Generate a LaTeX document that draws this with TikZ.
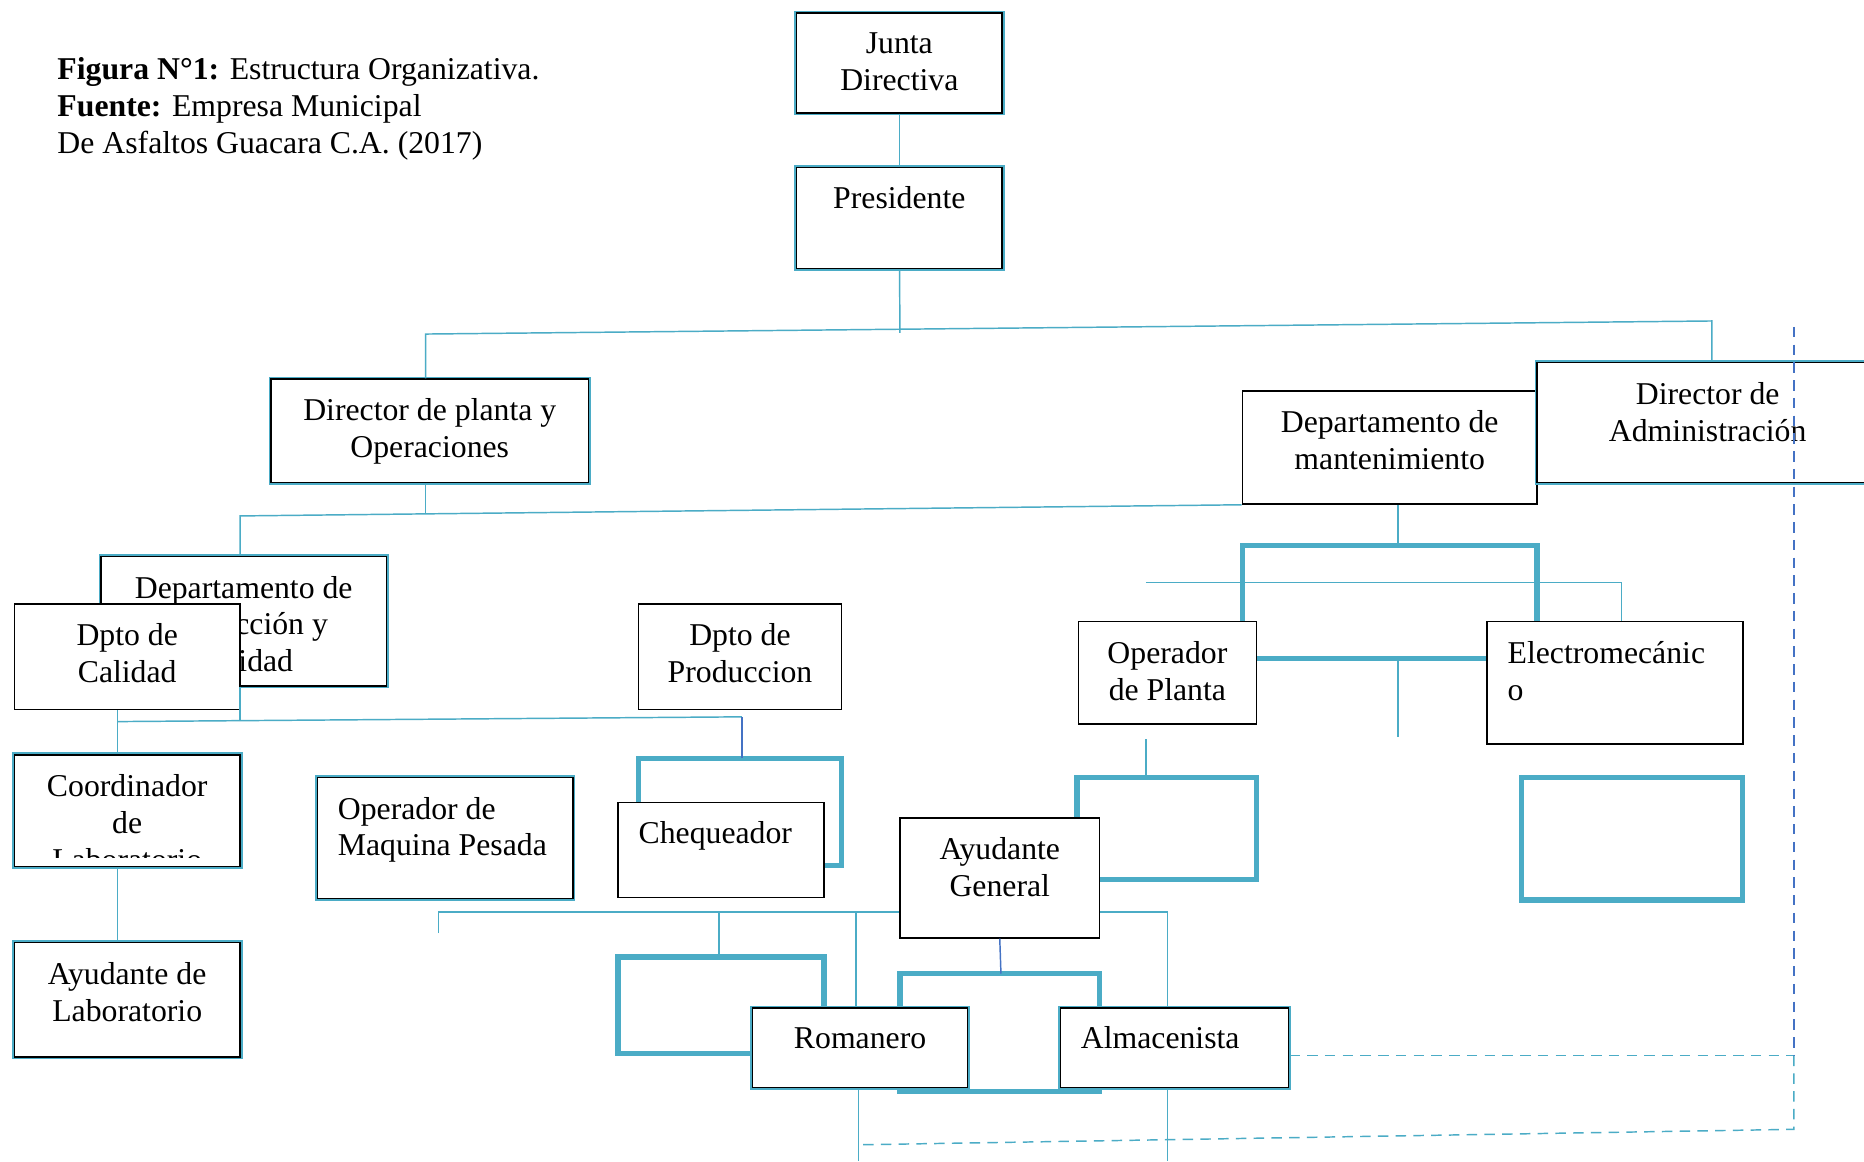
\documentclass[tikz,border=0pt]{standalone}
\usepackage{fontspec}
\setmainfont{Liberation Serif}
\usepackage{xcolor}
\usetikzlibrary{fit}
\definecolor{cyanline}{HTML}{4BACC6}
\definecolor{blueline}{HTML}{4472C4}

\tikzset{
    box/.style={draw=black, line width=0.7pt, fill=white, inner sep=0pt},
    cbox/.style={box, preaction={draw=cyanline, line width=2.3pt}},
    boxtext/.style={anchor=north, align=center, inner sep=0pt, yshift=-9.6pt, execute at begin node=\strut},
    onetext/.style={boxtext, yshift=2.3pt},
    lefttext/.style={boxtext, anchor=north west, align=left, xshift=3.5mm},
    link/.style={draw=cyanline, line width=0.7pt},
    blink/.style={draw=blueline, line width=0.7pt},
    thickline/.style={draw=cyanline, line width=2.6pt},
    dashlink/.style={link, dash pattern=on 5pt off 3.5pt}
}

\begin{document}
\begin{tikzpicture}[x=0.02cm, y=-0.02cm, font=\fontsize{15.2}{17.6}\selectfont]
            \useasboundingbox (0,0) rectangle (1568,977);
            \clip (0,0) rectangle (1568,977);
            \fill[white] (0,0) rectangle (1568,977);

            \node[anchor=north west, align=left, inner sep=0pt, execute at begin node=\strut] (caption) at (48,48)
                {\textbf{Figura N°1:} Estructura Organizativa.\\\textbf{Fuente:} Empresa Municipal\\De Asfaltos Guacara C.A. (2017)};

            % empty frames behind the boxes
            \draw[thickline] (537,638) rectangle (708,728);
            \draw[thickline] (520,805) rectangle (693,886);
            \draw[thickline] (757,819) rectangle (925,918);
            \draw[thickline] (906,654) rectangle (1057,740);
            \draw[thickline] (1280,654) rectangle (1466,757);

            % boxes
            \node[cbox, fit={(670,11) (843,95)}, label={[boxtext]north:Junta\\Directiva}] (junta) {};
            \node[cbox, fit={(670,141) (843,226)}, label={[onetext]north:Presidente}] (pres) {};
            \node[cbox, fit={(228,319) (495,406)}, label={[boxtext]north:Director de planta y\\Operaciones}] (dirpl) {};
            \node[box, fit={(1045,329) (1293,424)}, label={[boxtext]north:Departamento de\\mantenimiento}] (mant) {};
            \node[cbox, fit={(1293,305) (1580,406)}, label={[boxtext]north:Director de\\Administración}] (dirad) {};
            \node[cbox, fit={(85,468) (325,577)}, label={[boxtext]north:Departamento de\\Producción y\\Calidad}] (prodcal) {};
            \node[box, fit={(12,508) (202,597)}, label={[boxtext]north:Dpto de\\Calidad}] (calid) {};
            \node[box, fit={(537,508) (708,597)}, label={[boxtext]north:Dpto de\\Produccion}] (dprod) {};
            \node[box, fit={(907,523) (1057,609)}, label={[boxtext]north:Operador\\de Planta}] (oper) {};
            \node[box, fit={(1251,523) (1466,626)}, label={[lefttext]north west:Electromecánic\\o}] (elec) {};
            \node[cbox, fit={(12,635) (202,729)}] (coord) {};
            \begin{scope}
                \clip (12,635) rectangle (202,721);
                \node[boxtext] (coordtext) at (coord.north) {Coordinador\\de\\Laboratorio};
            \end{scope}
            \node[cbox, fit={(267,654) (482,756)}, label={[lefttext]north west:Operador de\\Maquina Pesada}] (opmaq) {};
            \node[box, fit={(520,675) (693,755)}, label={[lefttext, yshift=2.3pt]north west:Chequeador}] (cheq) {};
            \node[box, fit={(757,688) (925,789)}, label={[boxtext]north:Ayudante\\General}] (ayugen) {};
            \node[cbox, fit={(12,793) (202,889)}, label={[boxtext]north:Ayudante de\\Laboratorio}] (ayulab) {};
            \node[cbox, fit={(633,848) (814,915)}, label={[onetext]north:Romanero}] (roman) {};
            \node[cbox, fit={(892,848) (1084,915)}, label={[lefttext, yshift=2.3pt]north west:Almacenista}] (almac) {};

            % top levels
            \coordinate (p1) at (757,280);
            \coordinate (t1) at (358,281);
            \coordinate (t2) at (1440,270);
            \draw[link] (junta) -- (pres);
            \draw[link] (pres) -- (p1);
            \draw[link] (t1 |- dirpl.north) -- (t1) -- (t2) -- (t2 |- dirad.north);

            \coordinate (p2) at (358,432);
            \coordinate (t3) at (202,434);
            \draw[link] (p2 |- dirpl.south) -- (p2);
            \draw[link] (t3 |- prodcal.north) -- (t3) -- (mant.south west);

            % left branch
            \coordinate (t4) at (99,607);
            \coordinate (t5) at (624,603);
            \coordinate (p3) at (202,606);
            \coordinate (k1) at (624,638);
            \draw[link] (p3 |- prodcal.south) -- (p3);
            \draw[link] (t4 |- calid.south) -- (t4 |- coord.north);
            \draw[link] (t4) -- (t5);
            \draw[blink] (t5) -- (k1);
            \draw[link] (t4 |- coord.south) -- (t4 |- ayulab.north);

            % right branch
            \coordinate (m1) at (1176,459);
            \coordinate (m2) at (1045,459);
            \coordinate (m3) at (1293,459);
            \coordinate (m4) at (964,490);
            \coordinate (m5) at (1364,490);
            \coordinate (m6) at (1176,554);
            \coordinate (m7) at (1176,620);
            \coordinate (m8) at (964,622);
            \coordinate (m9) at (964,654);
            \draw[link] (m1 |- mant.south) -- (m1);
            \draw[thickline] (m2 |- oper.north) -- (m2) -- (m3) -- (m3 |- elec.north);
            \draw[link] (m4) -- (m5) -- (m5 |- elec.north);
            \draw[thickline] (oper.east |- m6) -- (elec.west |- m6);
            \draw[link] (m6) -- (m7);
            \draw[link] (m8) -- (m9);

            % bottom branch
            \coordinate (b1) at (369,785);
            \coordinate (b2) at (369,767);
            \coordinate (b3) at (605,767);
            \coordinate (b4) at (605,805);
            \coordinate (b5) at (720,767);
            \coordinate (b6) at (982,767);
            \coordinate (b7) at (842,819);
            \coordinate (b8) at (722,977);
            \coordinate (b9) at (982,977);
            \draw[link] (b1) -- (b2) -- (ayugen.west |- b2);
            \draw[link] (b3) -- (b4);
            \draw[link] (b5) -- (b5 |- roman.north);
            \draw[link] (ayugen.east |- b6) -- (b6) -- (b6 |- almac.north);
            \draw[blink] (ayugen.south) -- (b7);
            \draw[link] (b8 |- roman.south) -- (b8);
            \draw[link] (b9 |- almac.south) -- (b9);

            % dashed return line
            \coordinate (d1) at (1509,275);
            \coordinate (d2) at (1509,888);
            \coordinate (d3) at (1509,950);
            \coordinate (d4) at (722,963);
            \draw[dashlink] (almac.east |- d2) -- (d2);
            \draw[dashlink, blueline] (d1) -- (d2);
            \draw[dashlink] (d2) -- (d3) -- (d4);
        \end{tikzpicture}
\end{document}
